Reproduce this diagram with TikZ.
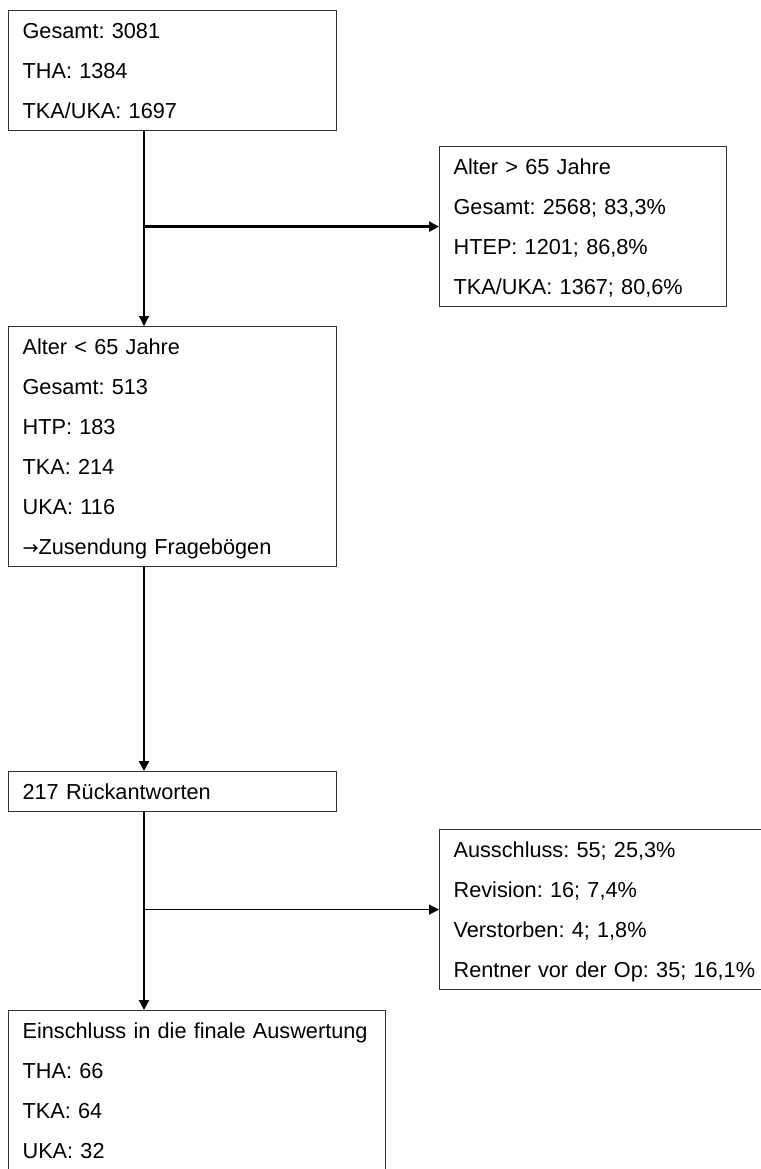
\documentclass[tikz,border=0pt]{standalone}
\usepackage{fontspec}
\setmainfont{Liberation Sans}
\newfontfamily\arrowfont{DejaVu Sans}
\usetikzlibrary{arrows.meta,positioning}
\definecolor{FlowLine}{HTML}{000000}
\definecolor{FlowBorder}{HTML}{333333}
\tikzset{>={Triangle[length=5pt,width=5pt]},every node/.style={font=\fontsize{10.85}{20}\selectfont\frenchspacing},
 stage/.style={draw=FlowBorder,line width=0.6pt,anchor=north west,align=left,inner xsep=7pt,
 inner ysep=0pt,execute at begin node=\strut,execute at end node=\strut},
 thinflow/.style={draw=FlowLine,line width=0.6pt,->},thickflow/.style={draw=FlowLine,line width=1.3pt,->}}
\begin{document}
\begin{tikzpicture}[x=0.5pt,y=-0.5pt]
\useasboundingbox (0,0) rectangle (761,1169);
\node[stage,text width=150pt] (total) at (8,10) {Gesamt: 3081\\THA: 1384\\TKA/UKA: 1697};
\node[stage,text width=129.5pt] (older) at (439,146)
 {Alter > 65 Jahre\\Gesamt: 2568; 83,3\%\\HTEP: 1201; 86,8\%\\TKA/UKA: 1367; 80,6\%};
\node[stage,text width=150pt] (younger) at (8,326)
 {Alter < 65 Jahre\\Gesamt: 513\\HTP: 183\\TKA: 214\\UKA: 116\\{\arrowfont\fontsize{9.5}{20}\selectfont →}Zusendung Fragebögen};
\node[stage,text width=150pt] (replies) at (8,771) {217 Rückantworten};
\node[stage,text width=170pt] (excluded) at (439,829)
 {Ausschluss: 55; 25,3\%\\Revision: 16; 7,4\%\\Verstorben: 4; 1,8\%\\Rentner vor der Op: 35; 16,1\%};
\node[stage,text width=174.5pt] (included) at (8,1010)
 {Einschluss in die finale Auswertung\\THA: 66\\TKA: 64\\UKA: 32};
\coordinate (spine) at (144,0);
\coordinate (split1) at (older.west -| spine);
\coordinate (split2) at (excluded.west -| spine);
\draw[thinflow] (total.south -| spine) -- (younger.north -| spine);
\draw[thickflow] (split1) -- (older.west);
\draw[thickflow] (younger.south -| spine) -- (replies.north -| spine);
\draw[thickflow] (replies.south -| spine) -- (included.north -| spine);
\draw[thinflow] (split2) -- (excluded.west);
\end{tikzpicture}
\end{document}
